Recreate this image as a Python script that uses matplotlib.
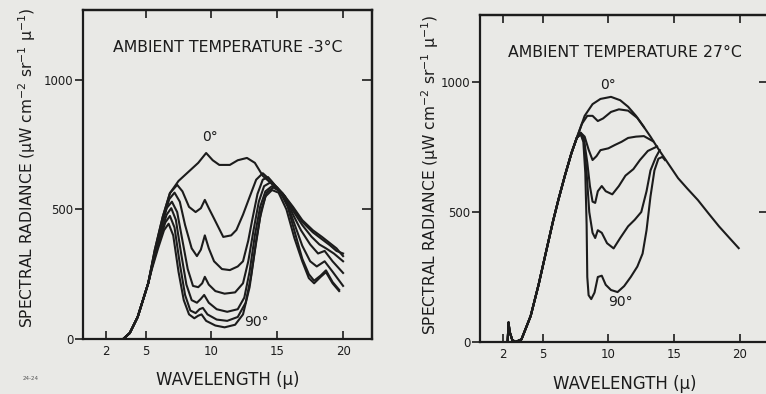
import matplotlib
matplotlib.use("Agg")
import matplotlib.pyplot as plt

# ambient -3 C panel, 7 zenith angles (0 deg ... 90 deg)
FOOT_COLD_X = [3.3, 3.8, 4.4, 5.2]
FOOT_COLD_Y = [0, 23, 85, 215]

COLD_X = [
    [5.7, 6.3, 6.85, 7.5, 8.4, 9.0, 9.6, 10.1, 10.6, 11.4, 12.0, 12.7, 13.3, 13.9, 14.6, 15.4,
     16.2, 16.9, 17.7, 18.4, 19.0, 19.5, 20.0],
    [5.7, 6.3, 6.85, 7.4, 7.8, 8.3, 8.8, 9.2, 9.5, 9.8, 10.2, 10.9, 11.5, 11.9, 12.4, 12.9, 13.4,
     13.9, 14.5, 15.4, 16.2, 16.9, 17.7, 18.4, 19.0, 19.5, 20.0],
    [5.7, 6.3, 6.8, 7.2, 7.6, 8.0, 8.5, 8.9, 9.2, 9.5, 9.8, 10.2, 10.8, 11.4, 12.0, 12.4, 12.8,
     13.1, 13.5, 13.9, 14.3, 14.8, 15.5, 16.2, 16.9, 17.6, 18.2, 18.7, 19.3, 20.0],
    [5.6, 6.1, 6.6, 7.0, 7.4, 7.8, 8.2, 8.6, 9.0, 9.3, 9.5, 9.8, 10.3, 11.0, 11.8, 12.4, 12.8,
     13.2, 13.6, 14.0, 14.5, 15.0, 15.6, 16.2, 16.8, 17.5, 18.1, 18.6, 19.2, 20.0],
    [5.6, 6.1, 6.6, 6.95, 7.3, 7.7, 8.1, 8.5, 8.9, 9.2, 9.45, 9.8, 10.4, 11.2, 12.0, 12.5, 12.9,
     13.3, 13.7, 14.1, 14.6, 15.1, 15.7, 16.3, 16.9, 17.5, 18.0, 18.6, 19.2, 20.0],
    [5.5, 6.0, 6.5, 6.85, 7.2, 7.6, 8.0, 8.4, 8.8, 9.1, 9.35, 9.7, 10.4, 11.2, 12.0, 12.6, 13.0,
     13.4, 13.8, 14.2, 14.7, 15.2, 15.8, 16.4, 16.9, 17.4, 17.8, 18.3, 18.7, 19.2, 19.7],
    [5.45, 5.95, 6.4, 6.75, 7.1, 7.5, 7.9, 8.3, 8.7, 9.0, 9.25, 9.6, 10.3, 11.0, 11.8, 12.4, 12.9,
     13.3, 13.7, 14.1, 14.6, 15.1, 15.7, 16.3, 16.9, 17.4, 17.8, 18.3, 18.7, 19.2, 19.7],
]
COLD_Y = [
    [344, 471, 563, 610, 652, 680, 718, 690, 672, 672, 690, 699, 680, 630, 598, 563,
     510, 459, 420, 394, 370, 350, 320],
    [344, 471, 563, 595, 570, 510, 490, 505, 537, 505, 465, 394, 400, 421, 480, 548, 615,
     640, 612, 560, 505, 452, 412, 385, 362, 340, 330],
    [335, 455, 540, 565, 530, 440, 350, 320, 345, 400, 350, 300, 270, 266, 280, 300, 380,
     460, 560, 615, 625, 595, 555, 495, 440, 395, 365, 350, 330, 300],
    [310, 420, 505, 530, 490, 380, 270, 205, 200, 215, 240, 210, 185, 175, 180, 215, 300,
     420, 530, 590, 605, 585, 550, 480, 420, 365, 330, 340, 300, 255],
    [300, 400, 480, 505, 460, 330, 210, 150, 140, 155, 170, 140, 115, 105, 115, 160, 260,
     400, 510, 570, 590, 575, 530, 445, 360, 300, 280, 300, 260, 205],
    [280, 370, 450, 475, 430, 290, 170, 110, 100, 115, 120, 95, 75, 70, 85, 140, 240,
     380, 500, 565, 585, 570, 510, 400, 310, 250, 225, 245, 265, 220, 190],
    [265, 350, 420, 445, 400, 260, 150, 95, 80, 90, 95, 70, 52, 45, 55, 95, 200,
     340, 470, 550, 575, 565, 500, 390, 300, 235, 215, 240, 258, 215, 185],
]

# ambient 27 C panel, 6 zenith angles
FOOT_WARM_X = [2.35, 2.42, 2.5, 2.7, 2.95, 3.4, 4.1, 4.7, 5.3, 5.8, 6.2, 6.7, 7.2, 7.6]
FOOT_WARM_Y = [0, 75, 40, 8, 0, 10, 100, 220, 354, 465, 546, 640, 727, 785]

WARM_X = [
    [8.2, 8.8, 9.4, 10.2, 10.9, 11.5, 12.1, 12.7, 13.2, 13.7, 14.5, 15.3, 16.0, 16.8, 17.6,
     18.4, 19.2, 19.9],
    [8.0, 8.4, 8.8, 9.2, 9.6, 10.2, 10.8, 11.5, 12.2, 12.7],
    [7.9, 8.2, 8.5, 8.8, 9.1, 9.4, 10.0, 10.5, 11.0, 11.5, 12.1, 12.7, 13.4],
    [7.9, 8.15, 8.4, 8.6, 8.8, 9.0, 9.2, 9.5, 9.8, 10.3, 10.8, 11.3, 11.9, 12.4, 13.0, 13.7],
    [7.9, 8.15, 8.35, 8.55, 8.8, 9.0, 9.2, 9.5, 9.9, 10.4, 10.9, 11.5, 12.0, 12.5, 12.9, 13.2,
     13.6, 13.9],
    [7.9, 8.1, 8.25, 8.35, 8.4, 8.5, 8.7, 8.95, 9.2, 9.5, 9.8, 10.2, 10.7, 11.2, 11.7, 12.2,
     12.6, 12.9, 13.2, 13.5, 13.8, 14.1, 14.3],
]
WARM_Y = [
    [870, 915, 935, 943, 930, 905, 870, 827, 790, 750, 690, 630, 590, 546, 495,
     445, 400, 361],
    [840, 870, 870, 850, 860, 885, 895, 890, 862, 827],
    [805, 790, 740, 700, 715, 738, 745, 758, 770, 785, 790, 792, 772],
    [805, 780, 690, 600, 540, 535, 580, 600, 580, 568, 600, 640, 665, 700, 735, 752],
    [800, 770, 650, 500, 420, 400, 430, 420, 380, 360, 400, 445, 470, 500, 580, 660,
     710, 738],
    [800, 770, 650, 450, 250, 180, 165, 190, 250, 255, 220, 200, 192, 215, 250, 290,
     340, 430, 560, 660, 705, 712, 700],
]

X_TICKS = [2, 5, 10, 15, 20]
Y_TICKS = [0, 500, 1000]

INK = '#1c1c1c'
PAPER = '#e9e9e6'
YLABEL = 'SPECTRAL RADIANCE (μW cm$^{-2}$ sr$^{-1}$ μ$^{-1}$)'
XLABEL = 'WAVELENGTH (μ)'

plt.rcParams['font.family'] = ['DejaVu Sans']


def panel(fig, rect, xs, ys, foot_x, foot_y, title, ylim, top_ticks):
    ax = fig.add_axes(rect)
    ax.set_facecolor(PAPER)
    for x, y in zip(xs, ys):
        ax.plot(foot_x + x, foot_y + y, color=INK, lw=1.5, solid_joinstyle='round')
    ax.set_xlim(0.25, 22.2)
    ax.set_ylim(0, ylim)
    ax.set_xticks(X_TICKS)
    ax.set_yticks(Y_TICKS)
    ax.tick_params(axis='x', direction='in', length=6, width=1.2, labelsize=8.5, pad=4, colors=INK)
    ax.tick_params(axis='y', direction='out', length=6, width=1.2, labelsize=8.5, pad=1, colors=INK)
    sx = ax.secondary_xaxis('top')
    sx.set_xticks(top_ticks)
    sx.tick_params(direction='in', length=6, width=1.2, labeltop=False, colors=INK)
    sy = ax.secondary_yaxis('right')
    sy.set_yticks([500, 1000])
    sy.tick_params(direction='in', length=7, width=1.2, labelright=False, colors=INK)
    for s in list(ax.spines.values()) + [sx.spines['top'], sy.spines['right']]:
        s.set_linewidth(1.6)
        s.set_color(INK)
    ax.text(0.5, 0.885, title, transform=ax.transAxes, ha='center', va='center',
            fontsize=11.3, color=INK)
    return ax


fig = plt.figure(figsize=(7.66, 3.94), dpi=100)
fig.patch.set_facecolor(PAPER)

ax1 = panel(fig, [0.1084, 0.1396, 0.3773, 0.835], COLD_X, COLD_Y, FOOT_COLD_X, FOOT_COLD_Y,
            'AMBIENT TEMPERATURE -3°C', 1270, [5, 10, 15, 20])
ax1.text(9.9, 780, '0°', ha='center', va='center', fontsize=10, color=INK)
ax1.text(13.4, 66, '90°', ha='center', va='center', fontsize=10, color=INK)

ax2 = panel(fig, [0.6266, 0.132, 0.3773, 0.830], WARM_X, WARM_Y, FOOT_WARM_X, FOOT_WARM_Y,
            'AMBIENT TEMPERATURE 27°C', 1258, X_TICKS)
ax2.text(10.0, 988, '0°', ha='center', va='center', fontsize=10, color=INK)
ax2.text(10.9, 154, '90°', ha='center', va='center', fontsize=10, color=INK)

# axis titles placed in figure coordinates
fig.text(0.0352, 0.574, YLABEL, rotation=90, ha='center', va='center', fontsize=11.2, color=INK)
fig.text(0.5614, 0.556, YLABEL, rotation=90, ha='center', va='center', fontsize=11.2, color=INK)
fig.text(0.297, 0.0355, XLABEL, ha='center', va='center', fontsize=12, color=INK)
fig.text(0.815, 0.026, XLABEL, ha='center', va='center', fontsize=12, color=INK)

fig.text(0.03, 0.035, '24-24', fontsize=4, color='#555555')

fig.savefig('out.png', dpi=100, facecolor=fig.get_facecolor())
